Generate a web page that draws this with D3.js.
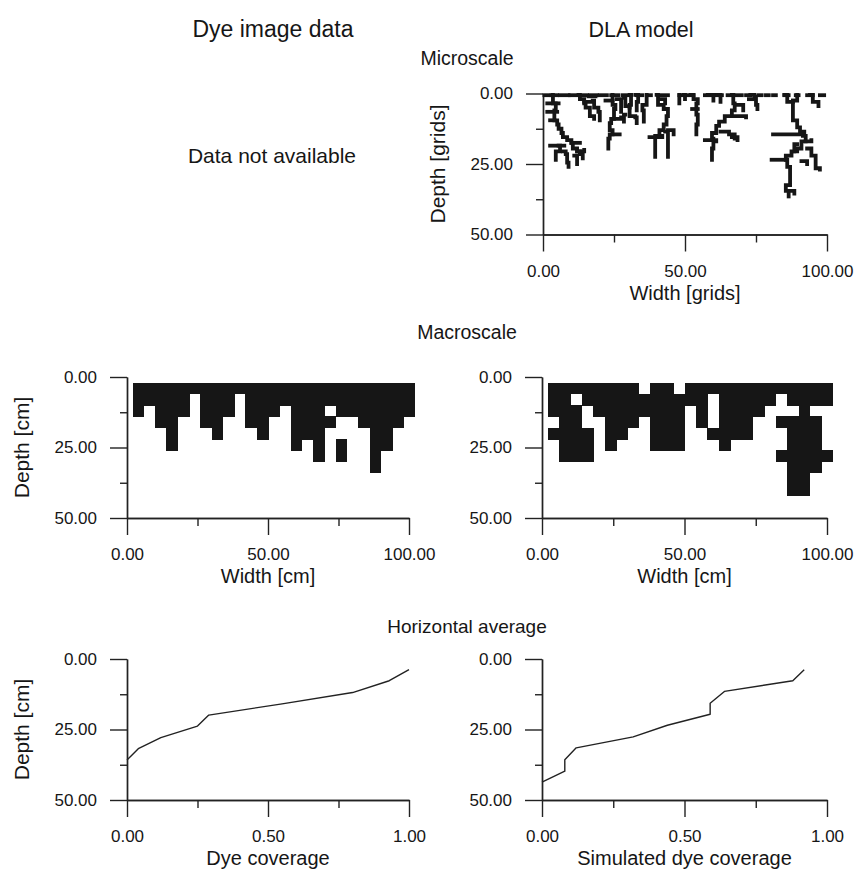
<!DOCTYPE html>
<html>
<head>
<meta charset="utf-8">
<script src="https://cdn.jsdelivr.net/npm/d3@7"></script>
<style>
  body { margin: 0; background: #fff; }
</style>
</head>
<body>
<div id="chart"></div>
<script>
// ---- data ----

// macroscale dye pattern, one string per 4 cm row, one char per 4 cm column ('#' = dyed)
const dyeCells = [
  '#########################',
  '#####.###.###############',
  '#.###.###.###.###.#######',
  '..##..##..##..####..####.',
  '...#...#...#..###....##..',
  '...#..........#.#.#..##..',
  '................#.#..#...',
  '.....................#...'
];
const dlaCells = [
  '########.##.#############',
  '##.###########.#####.####',
  '###.########.#.####...#..',
  '.##..###.###.#.###..####.',
  '####.##..###..####...###.',
  '.###.#...###...#.....###.',
  '.###................#####',
  '.....................###.',
  '.....................##..',
  '.....................##..'
];

// horizontal averages (coverage vs depth in cm)
const dyeCoverage = [0, 0.04, 0.12, 0.25, 0.29, 0.55, 0.80, 0.93, 1.0];
const dyeDepth = [35.8, 31.8, 27.9, 23.8, 19.9, 15.9, 11.9, 7.7, 3.8];
const simCoverage = [0, 0.08, 0.08, 0.12, 0.32, 0.44, 0.59, 0.59, 0.64, 0.88, 0.92];
const simDepth = [43.7, 39.8, 35.7, 31.5, 27.6, 23.5, 19.6, 15.7, 11.5, 7.7, 3.8];

// microscale DLA clusters, traced as [width, depth] in grid units
const dlaSeeds = [
  [0.5, 2], [3, 5], [6, 9], [9.5, 12], [13, 15.5], [16.5, 19], [20, 22.5], [24, 26.5],
  [28, 31], [33, 35], [37, 38], [41, 44], [48, 49.5], [51, 53], [57, 59.5], [61, 63],
  [65, 67], [68, 70], [71.5, 73], [76, 77], [78.5, 79.5], [81, 82], [85, 86.5],
  [89, 90], [93, 95], [97.5, 99]
];
const dlaBranches = [
  // left cluster
  [[3.5, 0.5], [3.5, 3.5], [4.5, 6], [4, 9.5], [5, 11], [5.5, 12.5], [6.5, 14], [7, 15.5], [8.5, 16.5], [10, 17.5], [10.5, 19.5], [12, 20.5], [13, 21.5], [14, 23]],
  [[1.5, 3.5], [5.5, 3.5]],
  [[1.5, 6.5], [5, 6.5]],
  [[2.5, 9.5], [4, 9.5]],
  [[2.5, 18.5], [7.5, 18.5]],
  [[5.5, 18.5], [6, 20.5], [4.5, 21.5], [4.5, 23.5]],
  [[7, 20.5], [8, 21.5], [8.5, 24.5], [9, 26]],
  [[10, 17.5], [13, 17.5]],
  [[12, 20.5], [14.5, 20]],
  [[11, 22], [12, 23.5], [12, 25]],
  // cluster near 15
  [[12.5, 0.5], [13, 2], [14.5, 3.5], [15, 5], [16.5, 6], [16.5, 8], [18, 9]],
  [[14.5, 3], [17.5, 2.5], [18, 5], [19.5, 6.5], [20, 9.5]],
  [[16, 1], [18.5, 1]],
  // cluster near 24
  [[24.5, 0.5], [24.5, 4], [25.5, 5.5], [25, 9], [24, 10.5], [23.5, 13], [24.5, 14.5], [23.5, 16], [23, 19.5]],
  [[24.5, 14.5], [27, 14.5]],
  [[25, 9], [27.5, 8.5]],
  [[22, 2.5], [24.5, 2.5]],
  [[26, 2], [27.5, 4], [27.5, 6.5]],
  // cluster near 31
  [[30.5, 0.5], [31, 4], [30.5, 8], [32.5, 8.5], [33, 10.5]],
  [[28.5, 1.5], [29, 4.5], [30.5, 5]],
  [[32.5, 0.5], [33.5, 3], [33, 6]],
  [[29, 7.5], [28.5, 10]],
  // cluster near 40
  [[36.5, 0.5], [36.5, 4], [35, 6], [35.5, 10]],
  [[40, 0.5], [40.5, 4], [42.5, 5.5], [44, 8], [43.5, 11], [42.5, 13], [41, 15], [39.5, 15.5], [39.5, 22.5]],
  [[37.5, 15.5], [42, 15]],
  [[43, 13.5], [44, 16.5], [44, 22.5]],
  [[44, 13], [46, 14.5]],
  [[41, 2], [43, 3.5]],
  // cluster near 53
  [[48, 0.5], [48, 3.5]],
  [[49.5, 0.5], [50, 2]],
  [[52, 0.5], [53, 2], [54.5, 3.5], [54, 7.5], [54.5, 11], [54, 14.5]],
  [[52.5, 5.5], [54.5, 5.5]],
  // cluster near 63
  [[66.5, 0.5], [67, 3.5], [67.5, 6], [66.5, 8], [64, 10], [62, 11.5], [61, 14], [59.5, 16], [60, 19.5], [59.5, 23.5]],
  [[62.5, 13.5], [65.5, 14.5], [67.5, 16]],
  [[66.5, 15.5], [68.5, 16.5]],
  [[57, 16.5], [61, 17]],
  [[67.5, 8], [71.5, 8.5]],
  [[68.5, 4], [70.5, 6]],
  [[58, 0.5], [61, 0.5]],
  [[59.5, 0.5], [60, 2.5]],
  [[62, 0.5], [62.5, 3]],
  [[73, 0.5], [74.5, 1], [75, 4], [75.5, 5.5]],
  [[72.5, 2], [74.5, 2]],
  // deep cluster on the right
  [[85, 0.5], [86, 3], [88, 2.5], [89.5, 0.5]],
  [[88, 2.5], [88, 9.5], [89.5, 12], [90.5, 13.5], [92, 14.5]],
  [[81, 14.5], [91.5, 15], [92.5, 17], [91, 19.5], [89.5, 20.5], [87.5, 22], [85.5, 23.5], [86, 26], [87, 27.5], [87, 32.5], [85.5, 34.5], [88.5, 35.5]],
  [[80.5, 23.5], [85.5, 23.5]],
  [[92.5, 17], [94.5, 16.5]],
  [[93, 19.5], [94.5, 22], [96, 26.5], [97.5, 27]],
  [[89.5, 18], [88.5, 20.5]],
  [[91, 24], [93, 25]],
  [[94, 0.5], [95, 3], [97, 4.5]],
  [[86.5, 35], [86.5, 36.5]]
];

// ticks
const depthMajor = [0, 25, 50];
const depthMinor = [12.5, 37.5];
const widthMajor = [0, 50, 100];
const widthMinor = [25, 75];
const covMajor = [0, 0.5, 1];
const covMinor = [0.25, 0.75];

// ---- layout ----
const W = 854, H = 870;
const FONT = 'Arial, "Liberation Sans", sans-serif';
const INK = '#161616';
const fmt = d3.format('.2f');
const CELL = 4, CELL0 = 2; // macroscale grid: 4 cm cells starting at 2 cm

const svg = d3.select('#chart').append('svg')
  .attr('width', W)
  .attr('height', H)
  .style('font-family', FONT);

function label(txt, x, y, size) {
  svg.append('text')
    .attr('x', x).attr('y', y)
    .attr('text-anchor', 'middle')
    .attr('font-size', size)
    .attr('fill', INK)
    .text(txt);
}

function makePanel(cfg) {
  const g = svg.append('g').attr('transform', `translate(${cfg.left},${cfg.top})`);
  const x = d3.scaleLinear().domain(cfg.xDomain).range([0, cfg.width]);
  const y = d3.scaleLinear().domain([0, 50]).range([0, cfg.height]);

  // minor ticks are short and unlabelled, major ones long with labels
  g.append('g').attr('class', 'axis')
    .call(d3.axisLeft(y).tickValues(depthMinor).tickSize(7).tickFormat('').tickSizeOuter(0));
  g.append('g').attr('class', 'axis')
    .call(d3.axisLeft(y).tickValues(depthMajor).tickSize(17).tickPadding(13).tickFormat(fmt).tickSizeOuter(0));

  const gx = g.append('g').attr('transform', `translate(0,${cfg.height})`);
  gx.append('g').attr('class', 'axis')
    .call(d3.axisBottom(x).tickValues(cfg.xMinor).tickSize(8).tickFormat('').tickSizeOuter(0));
  gx.append('g').attr('class', 'axis')
    .call(d3.axisBottom(x).tickValues(cfg.xMajor).tickSize(17).tickPadding(13).tickFormat(fmt).tickSizeOuter(0));

  g.selectAll('.axis path, .axis line').attr('stroke', '#222').attr('stroke-width', 1.4);
  g.selectAll('.axis text').attr('font-size', 17).attr('font-family', FONT).attr('fill', INK);

  g.append('text')
    .attr('x', cfg.width / 2).attr('y', cfg.height + 65)
    .attr('text-anchor', 'middle').attr('font-size', 20).attr('fill', INK)
    .text(cfg.xTitle);

  if (cfg.yTitle) {
    g.append('text')
      .attr('transform', `translate(-105,${cfg.height / 2}) rotate(-90)`)
      .attr('dy', '0.35em')
      .attr('text-anchor', 'middle').attr('font-size', 21).attr('fill', INK)
      .text(cfg.yTitle);
  }
  return { g, x, y };
}

function drawCells(p, rows) {
  const cells = [];
  rows.forEach((row, i) => row.split('').forEach((c, j) => {
    if (c === '#') cells.push({ i, j });
  }));
  p.g.insert('g', ':first-child')
    .attr('shape-rendering', 'crispEdges')
    .selectAll('rect')
    .data(cells)
    .join('rect')
    .attr('x', d => p.x(CELL0 + CELL * d.j))
    .attr('y', d => p.y(CELL0 + CELL * d.i))
    .attr('width', d => p.x(CELL0 + CELL * (d.j + 1)) - p.x(CELL0 + CELL * d.j) + 0.5)
    .attr('height', d => p.y(CELL0 + CELL * (d.i + 1)) - p.y(CELL0 + CELL * d.i) + 0.5)
    .attr('fill', INK);
}

function drawProfile(p, cov, depth) {
  const pts = cov.map((c, i) => [c, depth[i]]);
  p.g.append('path')
    .datum(pts)
    .attr('fill', 'none')
    .attr('stroke', '#222')
    .attr('stroke-width', 1.4)
    .attr('stroke-linejoin', 'round')
    .attr('d', d3.line().x(d => p.x(d[0])).y(d => p.y(d[1])));
}

// ---- headings ----
label('Dye image data', 273, 37, 23);
label('DLA model', 641, 37, 21.5);
label('Microscale', 467, 65, 19.5);
label('Data not available', 272, 163, 21);
label('Macroscale', 467, 339, 19.5);
label('Horizontal average', 467, 633, 19);

// ---- microscale DLA ----
const micro = makePanel({
  left: 543, top: 93.5, width: 284, height: 141,
  xDomain: [0, 100], xMajor: widthMajor, xMinor: widthMinor,
  xTitle: 'Width [grids]', yTitle: 'Depth [grids]'
});
const dlaLine = d3.line().x(d => micro.x(d[0])).y(d => micro.y(d[1])).curve(d3.curveStepAfter);
micro.g.append('g')
  .selectAll('path')
  .data(dlaSeeds.map(s => [[s[0], 0.6], [s[1], 0.6]]).concat(dlaBranches))
  .join('path')
  .attr('d', dlaLine)
  .attr('fill', 'none')
  .attr('stroke', INK)
  .attr('stroke-width', 3.8)
  .attr('stroke-linecap', 'square');

// ---- macroscale ----
const macroL = makePanel({
  left: 127, top: 377, width: 282, height: 141,
  xDomain: [0, 100], xMajor: widthMajor, xMinor: widthMinor,
  xTitle: 'Width [cm]', yTitle: 'Depth [cm]'
});
drawCells(macroL, dyeCells);

const macroR = makePanel({
  left: 542, top: 377, width: 285, height: 141,
  xDomain: [0, 100], xMajor: widthMajor, xMinor: widthMinor,
  xTitle: 'Width [cm]'
});
drawCells(macroR, dlaCells);

// ---- horizontal average ----
const avgL = makePanel({
  left: 127, top: 659, width: 282, height: 141,
  xDomain: [0, 1], xMajor: covMajor, xMinor: covMinor,
  xTitle: 'Dye coverage', yTitle: 'Depth [cm]'
});
drawProfile(avgL, dyeCoverage, dyeDepth);

const avgR = makePanel({
  left: 542, top: 659, width: 285, height: 141,
  xDomain: [0, 1], xMajor: covMajor, xMinor: covMinor,
  xTitle: 'Simulated dye coverage'
});
drawProfile(avgR, simCoverage, simDepth);
</script>
</body>
</html>
